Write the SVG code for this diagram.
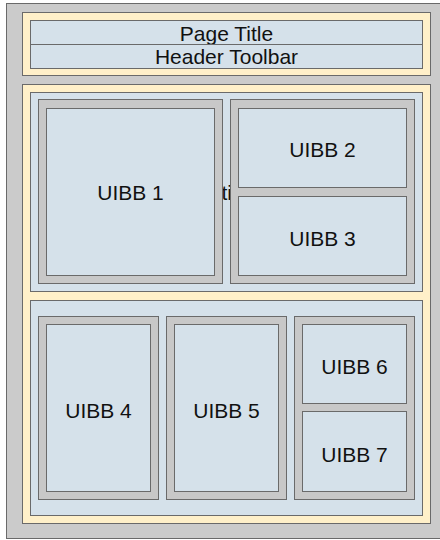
<svg xmlns="http://www.w3.org/2000/svg" width="440" height="540" viewBox="0 0 440 540">
<style>
.bg{fill:#cbcbcb;stroke:#6a6a6a;stroke-width:1}
.y{fill:#fff0c9;stroke:#6a6a6a;stroke-width:1}
.b{fill:#d5e1ea;stroke:#6a6a6a;stroke-width:1}
.g{fill:#c8c8c8;stroke:#6a6a6a;stroke-width:1}
text{font-family:"Liberation Sans",Arial,sans-serif;font-size:21px;fill:#111;text-anchor:middle}
</style>
<rect x="0" y="0" width="440" height="540" fill="#ffffff"/>
<g id="page">
<rect class="bg" x="6.5" y="3.5" width="440" height="535"/>
</g>
<g id="header">
<rect class="y" x="22.5" y="12.5" width="408" height="63"/>
<g id="page-title">
<rect class="b" x="30.5" y="20.5" width="392" height="24"/>
<text x="226.5" y="40.5">Page Title</text>
</g>
<g id="header-toolbar">
<rect class="b" x="30.5" y="44.5" width="392" height="24"/>
<text x="226.5" y="63.5">Header Toolbar</text>
</g>
</g>
<g id="body">
<rect class="y" x="22.5" y="84.5" width="408" height="439"/>
</g>
<g id="row1">
<rect class="b" x="30.5" y="92.5" width="392" height="199"/>
<text x="221.4" y="200" style="text-anchor:start">ti</text>
</g>
<g id="uibb1">
<rect class="g" x="38.5" y="99.5" width="184" height="184"/>
<rect class="b" x="46.5" y="108.5" width="168" height="167"/>
<text x="130.5" y="199.5">UIBB 1</text>
</g>
<g id="col23">
<rect class="g" x="230.5" y="99.5" width="184" height="184"/>
</g>
<g id="uibb2">
<rect class="b" x="238.5" y="108.5" width="168" height="79"/>
<text x="322.5" y="156.5">UIBB 2</text>
</g>
<g id="uibb3">
<rect class="b" x="238.5" y="196.5" width="168" height="79"/>
<text x="322.5" y="245.5">UIBB 3</text>
</g>
<g id="row2">
<rect class="b" x="30.5" y="300.5" width="392" height="215"/>
</g>
<g id="uibb4">
<rect class="g" x="38.5" y="316.5" width="120" height="183"/>
<rect class="b" x="46.5" y="324.5" width="104" height="167"/>
<text x="98.5" y="417.5">UIBB 4</text>
</g>
<g id="uibb5">
<rect class="g" x="166.5" y="316.5" width="120" height="183"/>
<rect class="b" x="174.5" y="324.5" width="104" height="167"/>
<text x="226.5" y="417.5">UIBB 5</text>
</g>
<g id="col67">
<rect class="g" x="294.5" y="316.5" width="120" height="183"/>
</g>
<g id="uibb6">
<rect class="b" x="302.5" y="324.5" width="104" height="79"/>
<text x="354.5" y="373.5">UIBB 6</text>
</g>
<g id="uibb7">
<rect class="b" x="302.5" y="411.5" width="104" height="80"/>
<text x="354.5" y="461.5">UIBB 7</text>
</g>
<g id="connectors"></g>
</svg>
